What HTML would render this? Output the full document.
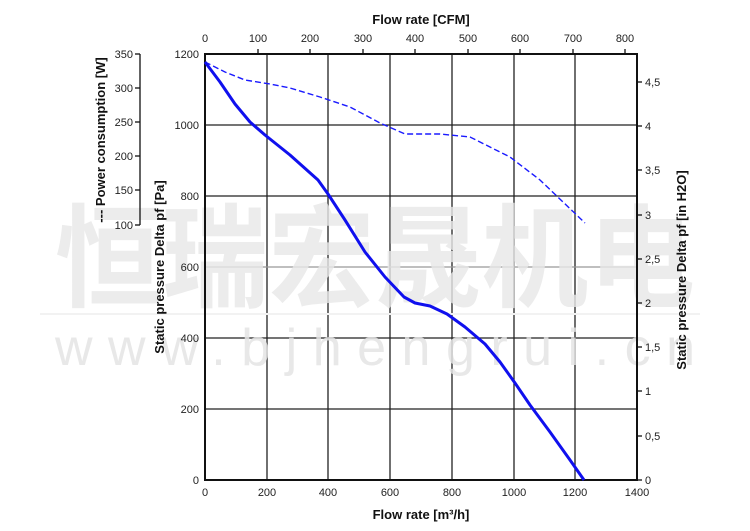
<!DOCTYPE html><html><head><style>body{margin:0;background:#fff}svg{display:block}</style></head><body>
<svg width="750" height="531" xmlns="http://www.w3.org/2000/svg" font-family="Liberation Sans, Arial, sans-serif">
<rect width="750" height="531" fill="#fff"/>
<g stroke="#222" stroke-width="1.3">
<line x1="267" y1="54" x2="267" y2="480"/><line x1="328" y1="54" x2="328" y2="480"/><line x1="390" y1="54" x2="390" y2="480"/><line x1="452" y1="54" x2="452" y2="480"/><line x1="514" y1="54" x2="514" y2="480"/><line x1="575" y1="54" x2="575" y2="480"/>
<line x1="205" y1="125" x2="637" y2="125"/><line x1="205" y1="196" x2="637" y2="196"/><line x1="205" y1="267" x2="637" y2="267" stroke="#999"/><line x1="205" y1="338" x2="637" y2="338"/><line x1="205" y1="409" x2="637" y2="409"/>
</g>
<g fill="#e8e8e8" font-family="Noto Sans CJK SC, sans-serif" font-weight="bold" font-size="112" opacity="0.8">
<text x="55" y="298" textLength="640" lengthAdjust="spacingAndGlyphs">恒瑞宏晟机电</text>
</g>
<line x1="40" y1="314" x2="700" y2="314" stroke="#f2f2f2" stroke-width="2"/>
<text x="55" y="365" fill="#e4e4e4" font-size="52" textLength="640" lengthAdjust="spacing" opacity="0.85">www.bjhengrui.cn</text>
<rect x="205" y="54" width="432" height="426" fill="none" stroke="#111" stroke-width="2"/>
<polyline fill="none" stroke="#1a1aff" stroke-width="1.4" stroke-dasharray="6,3" points="205,62 225,72 245,80 270,84 290,88 320,97 350,107 380,123 405,134 440,134 470,137 510,157 540,180 585,223"/>
<polyline fill="none" stroke="#1010ee" stroke-width="3" stroke-linejoin="round" points="205,62 220,82 235,104 250,122 265,135 290,155 318,180 328,194 345,220 365,252 385,277 404,297 415,303 430,306 447,314 465,327 485,344 500,362 515,383 530,405 550,432 570,460 584,480"/>
<g font-size="11" fill="#222">
<g text-anchor="middle">
<text x="205" y="496">0</text><text x="267" y="496">200</text><text x="328" y="496">400</text><text x="390" y="496">600</text><text x="452" y="496">800</text><text x="514" y="496">1000</text><text x="575" y="496">1200</text><text x="637" y="496">1400</text>
<text x="205" y="42">0</text><text x="258" y="42">100</text><text x="310" y="42">200</text><text x="363" y="42">300</text><text x="415" y="42">400</text><text x="468" y="42">500</text><text x="520" y="42">600</text><text x="573" y="42">700</text><text x="625" y="42">800</text>
</g>
<g text-anchor="end">
<text x="199" y="58">1200</text><text x="199" y="129">1000</text><text x="199" y="200">800</text><text x="199" y="271">600</text><text x="199" y="342">400</text><text x="199" y="413">200</text><text x="199" y="484">0</text>
<text x="133" y="58">350</text><text x="133" y="92">300</text><text x="133" y="126">250</text><text x="133" y="160">200</text><text x="133" y="194">150</text><text x="133" y="229">100</text>
</g>
<text x="645" y="86">4,5</text><text x="645" y="130">4</text><text x="645" y="174">3,5</text><text x="645" y="219">3</text><text x="645" y="263">2,5</text><text x="645" y="307">2</text><text x="645" y="351">1,5</text><text x="645" y="395">1</text><text x="645" y="440">0,5</text><text x="645" y="484">0</text>
</g>
<g stroke="#111" stroke-width="1.3">
<line x1="140" y1="54" x2="140" y2="225"/>
<line x1="135" y1="54" x2="140" y2="54"/><line x1="135" y1="88" x2="140" y2="88"/><line x1="135" y1="122" x2="140" y2="122"/><line x1="135" y1="156" x2="140" y2="156"/><line x1="135" y1="190" x2="140" y2="190"/><line x1="135" y1="225" x2="140" y2="225"/>
<line x1="637" y1="82" x2="642" y2="82"/><line x1="637" y1="126" x2="642" y2="126"/><line x1="637" y1="170" x2="642" y2="170"/><line x1="637" y1="215" x2="642" y2="215"/><line x1="637" y1="259" x2="642" y2="259"/><line x1="637" y1="303" x2="642" y2="303"/><line x1="637" y1="347" x2="642" y2="347"/><line x1="637" y1="391" x2="642" y2="391"/><line x1="637" y1="436" x2="642" y2="436"/><line x1="637" y1="480" x2="642" y2="480"/>
<line x1="258" y1="49" x2="258" y2="54"/><line x1="310" y1="49" x2="310" y2="54"/><line x1="363" y1="49" x2="363" y2="54"/><line x1="415" y1="49" x2="415" y2="54"/><line x1="468" y1="49" x2="468" y2="54"/><line x1="520" y1="49" x2="520" y2="54"/><line x1="573" y1="49" x2="573" y2="54"/><line x1="625" y1="49" x2="625" y2="54"/>
</g>
<g font-size="13" font-weight="bold" fill="#111">
<text x="421" y="24" text-anchor="middle">Flow rate [CFM]</text>
<text x="421" y="519" text-anchor="middle">Flow rate [m³/h]</text>
<text transform="translate(164,267) rotate(-90)" text-anchor="middle">Static pressure Delta pf [Pa]</text>
<text transform="translate(105,140) rotate(-90)" text-anchor="middle">--- Power consumption [W]</text>
<text transform="translate(686,270) rotate(-90)" text-anchor="middle">Static pressure Delta pf [in H2O]</text>
</g>
</svg></body></html>
